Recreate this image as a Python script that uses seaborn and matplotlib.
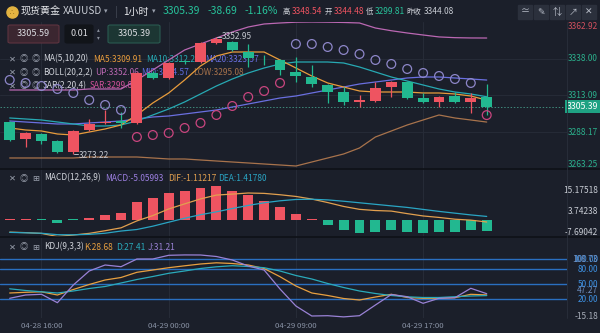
import matplotlib
matplotlib.use("Agg")
import matplotlib.pyplot as plt
from matplotlib.lines import Line2D
from matplotlib.patches import FancyBboxPatch
import numpy as np
import pandas as pd
import seaborn as sns

# ---------------- data ----------------
DATE_TICK_POS = [2, 10, 18, 26]
DATE_TICK_LABELS = ["04-28 16:00", "04-29 00:00", "04-29 09:00", "04-29 17:00"]

OPEN = [3295.12, 3283.60, 3286.99, 3282.24, 3274.78, 3289.70, 3294.45, 3295.80, 3294.45, 3328.35,
        3324.96, 3336.20, 3335.80, 3348.69, 3349.50, 3342.58, 3337.30, 3337.16, 3329.02, 3325.63,
        3320.21, 3315.46, 3308.68, 3309.36, 3318.85, 3322.24, 3311.40, 3308.68, 3312.75, 3308.68,
        3312.07]
HIGH = [3296.00, 3288.30, 3287.60, 3282.90, 3289.60, 3297.16, 3303.26, 3301.90, 3329.00, 3329.60,
        3335.80, 3337.00, 3349.30, 3352.95, 3350.20, 3348.01, 3340.55, 3337.90, 3339.19, 3333.77,
        3320.90, 3318.85, 3313.43, 3322.24, 3322.90, 3322.90, 3314.79, 3312.60, 3315.46, 3314.79,
        3320.89]
LOW = [3282.30, 3278.17, 3280.21, 3274.20, 3273.22, 3289.20, 3294.00, 3291.06, 3293.80, 3324.30,
       3324.40, 3334.60, 3335.20, 3348.10, 3343.40, 3332.41, 3333.77, 3326.99, 3322.24, 3318.85,
       3308.01, 3306.65, 3305.29, 3308.80, 3312.07, 3310.90, 3308.10, 3305.29, 3308.20, 3301.23,
       3299.81]
CLOSE = [3282.92, 3287.67, 3282.24, 3274.78, 3289.02, 3293.77, 3295.12, 3294.45, 3328.35, 3324.96,
         3335.13, 3335.50, 3348.69, 3351.40, 3343.94, 3338.52, 3337.00, 3330.38, 3326.31, 3320.89,
         3315.46, 3308.68, 3310.04, 3318.18, 3322.24, 3311.40, 3308.68, 3312.07, 3308.68, 3311.40,
         3305.39]

MA5 = [3291.06, 3289.70, 3289.02, 3286.99, 3286.31, 3288.34, 3290.38, 3293.09, 3299.87, 3308.01,
       3314.79, 3323.60, 3333.09, 3339.87, 3342.58, 3342.58, 3342.58, 3337.16, 3331.74, 3326.31,
       3321.57, 3318.85, 3316.14, 3315.46, 3315.46, 3315.46, 3314.79, 3314.79, 3314.11, 3312.75,
       3309.91]
MA10 = [3297.84, 3297.16, 3296.48, 3295.12, 3293.77, 3292.41, 3292.41, 3293.09, 3295.80, 3299.87,
        3303.94, 3308.68, 3314.11, 3319.53, 3324.28, 3328.35, 3331.74, 3334.45, 3335.80, 3335.80,
        3335.80, 3335.13, 3332.41, 3329.02, 3325.63, 3322.92, 3320.21, 3317.50, 3315.46, 3314.11,
        3312.24]
MA20 = [3295.80, 3295.12, 3294.45, 3293.77, 3293.77, 3294.45, 3295.12, 3295.80, 3297.16, 3298.51,
        3299.19, 3300.55, 3301.90, 3303.26, 3305.29, 3307.33, 3309.36, 3311.40, 3312.75, 3314.79,
        3316.82, 3318.85, 3320.89, 3322.24, 3323.60, 3324.96, 3325.63, 3325.63, 3324.96, 3324.28,
        3323.57]
BOLL_UP = [3316.82, 3316.82, 3316.82, 3316.82, 3316.82, 3317.50, 3317.50, 3317.50, 3323.60, 3330.38,
           3337.16, 3343.94, 3348.01, 3352.08, 3356.14, 3359.53, 3361.57, 3362.25, 3362.80, 3362.92,
           3362.80, 3362.60, 3362.25, 3358.85, 3357.00, 3355.47, 3354.11, 3352.80, 3352.30, 3352.10,
           3352.06]
BOLL_LOW = [3270.72, 3270.72, 3270.72, 3270.72, 3270.72, 3271.39, 3271.39, 3271.39, 3271.39, 3270.72,
            3270.04, 3270.04, 3269.36, 3268.68, 3268.00, 3267.33, 3266.65, 3265.97, 3265.29, 3268.00,
            3270.72, 3273.43, 3277.50, 3284.95, 3289.02, 3293.09, 3296.48, 3299.87, 3297.84, 3296.48,
            3295.08]
SAR = [3323.60, 3321.57, 3319.53, 3317.50, 3314.79, 3310.04, 3306.65, 3303.26, 3284.95, 3286.31,
       3287.67, 3291.06, 3294.45, 3299.87, 3305.97, 3312.07, 3316.14, 3321.57, 3348.01, 3348.01,
       3345.97, 3343.94, 3341.23, 3337.16, 3334.45, 3331.06, 3328.35, 3326.31, 3324.28, 3321.57,
       3299.80]

MACD_HIST = [0.20, 0.15, -0.15, -1.67, -0.20, 0.90, 2.28, 2.89, 7.75, 9.58,
             12.00, 13.07, 14.29, 15.18, 13.07, 11.25, 8.51, 5.47, 2.74, 0.15,
             -2.43, -4.71, -5.93, -5.62, -4.71, -5.62, -5.93, -5.47, -5.47, -4.71,
             -5.06]
DIF = [-5.70, -5.92, -6.28, -7.69, -7.00, -6.25, -5.06, -3.75, -0.60, 1.80,
       4.80, 7.10, 9.35, 11.09, 11.53, 12.03, 11.86, 11.24, 10.47, 9.28,
       7.70, 5.94, 4.63, 4.09, 3.84, 2.69, 1.63, 0.96, 0.16, -0.26,
       -1.11]
DEA = [-5.80, -6.00, -6.20, -6.85, -6.90, -6.70, -6.20, -5.20, -4.50, -3.00,
       -1.20, 0.60, 2.20, 3.50, 5.00, 6.40, 7.60, 8.50, 9.10, 9.20,
       8.90, 8.30, 7.60, 6.90, 6.20, 5.50, 4.60, 3.70, 2.90, 2.10,
       1.42]

K = [32.6, 34.0, 35.0, 28.6, 39.6, 49.6, 58.6, 63.6, 74.0, 78.6,
     83.2, 87.0, 90.6, 93.0, 91.6, 88.6, 81.6, 65.2, 46.6, 32.6,
     27.6, 21.6, 18.6, 24.6, 30.0, 23.6, 22.0, 22.2, 23.2, 30.0,
     28.68]
D = [41.0, 37.6, 35.0, 32.6, 36.6, 41.6, 45.6, 52.6, 59.6, 65.6,
     72.0, 76.6, 81.6, 85.0, 87.2, 85.6, 83.2, 76.6, 67.6, 60.6,
     51.6, 43.6, 36.6, 31.6, 27.6, 25.0, 23.6, 23.6, 25.2, 26.6,
     27.41]
J = [22.0, 28.6, 30.0, 13.2, 48.6, 76.6, 88.6, 85.2, 100.6, 100.6,
     108.0, 108.73, 108.6, 105.6, 98.6, 86.6, 78.6, 40.6, 6.6, -13.4,
     -12.8, -15.18, -12.8, 8.6, 29.6, 25.2, 12.0, 22.0, 23.2, 42.0,
     31.21]

PRICE_TICKS = [3263.25, 3288.17, 3313.09, 3338.00, 3362.92]
MACD_TICKS = [-7.69042, 3.74238, 15.17518]
KDJ_TICKS = [-15.18, 20.00, 47.27, 50.00, 80.00, 100.00, 108.73]
KDJ_LEVELS = [20, 50, 80, 100]
LAST_PRICE = 3305.39
HIGH_MARK = (13, 3352.95)
LOW_MARK = (4, 3273.22)

# ---------------- style ----------------
sns.set_theme(style="dark")
plt.rcParams['font.family'] = ['Noto Sans CJK SC', 'DejaVu Sans']
plt.rcParams['axes.unicode_minus'] = False

BG = '#1b1f2a'
RED = '#ee5461'
GREEN = '#22b890'
GRID = '#262b37'
C_MA5, C_MA10, C_MA20 = '#e89c3c', '#27a9b3', '#6a6fe0'
C_UP, C_MID, C_LOW = '#bb68b3', '#5f6de0', '#a8734c'
C_K, C_D, C_J = '#e8a040', '#2aaabb', '#9a82d6'
C_DIF, C_DEA = '#e2a04f', '#2aa5c4'
TXT = '#d0d3da'
ICON = '#9aa0ad'

W, H = 600, 333
fig = plt.figure(figsize=(6, 3.33), dpi=100, facecolor=BG)


def fx(p):
    return p / W


def fy(p):
    return 1 - p / H


def axes_px(x0, y0, x1, y1):
    return fig.add_axes([fx(x0), fy(y1), (x1 - x0) / W, (y1 - y0) / H])


ax = axes_px(0, 22, 567, 169)
axm = axes_px(0, 169, 567, 237)
axk = axes_px(0, 237, 567, 318)

df = pd.DataFrame({
    'i': np.arange(len(CLOSE)), 'open': OPEN, 'high': HIGH, 'low': LOW, 'close': CLOSE,
    'MA5': MA5, 'MA10': MA10, 'MA20': MA20, 'UP': BOLL_UP, 'LOW_B': BOLL_LOW, 'SAR': SAR,
    'HIST': MACD_HIST, 'DIF': DIF, 'DEA': DEA, 'K': K, 'D': D, 'J': J,
})
idx = df['i'].values

for a in (ax, axm, axk):
    a.set_facecolor(BG)
    for s in a.spines.values():
        s.set_visible(False)
    a.set_xlim(-0.61, 35.05)
    a.grid(False)
    for t in DATE_TICK_POS:
        a.axvline(t, color=GRID, lw=0.8, zorder=0)

# ---------------- main panel ----------------
ax.set_ylim(PRICE_TICKS[0], PRICE_TICKS[-1])
for v in PRICE_TICKS[1:-1]:
    ax.axhline(v, color=GRID, lw=0.7, zorder=0)

for col, c in [('UP', C_UP), ('LOW_B', C_LOW), ('MA20', C_MA20), ('MA10', C_MA10), ('MA5', C_MA5)]:
    sns.lineplot(data=df, x='i', y=col, ax=ax, color=c, linewidth=0.9, zorder=2)

o = df['open'].values
c = df['close'].values
up = c >= o
cols = np.where(up, RED, GREEN)
ax.vlines(idx, df['low'], df['high'], colors=cols, lw=0.9, zorder=3)
body_h = np.maximum(np.abs(c - o), 0.35)
ax.bar(idx, body_h, bottom=np.minimum(o, c), width=0.68, color=cols, linewidth=0, zorder=4)

sar = df['SAR'].values
above = sar > c
ax.scatter(idx[above], sar[above], s=40, facecolors='none', edgecolors='#8d86c8', linewidths=0.9, zorder=5)
ax.scatter(idx[~above], sar[~above], s=40, facecolors='none', edgecolors='#c8457e', linewidths=0.9, zorder=5)

ax.axhline(LAST_PRICE, color='#3f8a7c', lw=0.7, ls=(0, (1.5, 1.8)), zorder=1)

# high / low marks
hx, hv = HIGH_MARK
ax.plot([hx + 0.05, hx + 0.3], [hv, hv], color='#b8bcc6', lw=0.7, zorder=6)
ax.text(hx + 0.35, hv, f'{hv:.2f}', color='#c3c7cf', fontsize=6, va='center', ha='left', zorder=6)
lx, lv = LOW_MARK
ax.plot([lx + 0.05, lx + 0.3], [lv, lv], color='#b8bcc6', lw=0.7, zorder=6)
ax.text(lx + 0.35, lv - 1.0, f'{lv:.2f}', color='#c3c7cf', fontsize=6, va='center', ha='left', zorder=6)


def right_ticks(a, vals, labels, colors, vas, size=6.0, pad=22.3):
    a.yaxis.tick_right()
    a.set_yticks(vals)
    a.set_yticklabels(labels)
    a.tick_params(axis='y', length=0, pad=pad, labelsize=size, left=False, right=True,
                  labelleft=False, labelright=True)
    for t, col, va in zip(a.yaxis.get_major_ticks(), colors, vas):
        t.label2.set_color(col)
        t.label2.set_va(va)
        t.label2.set_ha('right')


right_ticks(ax, PRICE_TICKS, [f'{v:.2f}' for v in PRICE_TICKS],
            ['#2bb08c'] * 4 + ['#d0505e'], ['bottom', 'center', 'center', 'center', 'top'])

ax.text(598 / 567, LAST_PRICE, f'{LAST_PRICE:.2f}', transform=ax.get_yaxis_transform(),
        ha='right', va='center', fontsize=6.3, color='white', zorder=10, clip_on=False,
        bbox=dict(boxstyle='square,pad=0.22', fc='#1fa283', ec='none'))

# legend rows (under the candles)
def row_icons(a, y, third='◎'):
    for x, s in [(12, '✕'), (23.5, '◎'), (35.5, third)]:
        a.text(fx(x), fy(y), s, transform=fig.transFigure, ha='center', va='center',
               fontsize=6, color=ICON, zorder=1)


def row_text(a, y, items):
    for x, s, col in items:
        a.text(fx(x), fy(y), s, transform=fig.transFigure, ha='left', va='center',
               fontsize=6, color=col, zorder=1)


row_icons(ax, 59)
row_text(ax, 59, [(43, 'MA(5,10,20)', TXT), (93, 'MA5:3309.91', C_MA5),
                  (146, 'MA10:3312.24', C_MA10), (205, 'MA20:3323.57', C_MA20)])
row_icons(ax, 72.5)
row_text(ax, 72.5, [(43, 'BOLL(20,2,2)', TXT), (95, 'UP:3352.06', C_UP),
                    (141, 'MID:3324.57', C_MID), (193, 'LOW:3295.08', C_LOW)])
row_icons(ax, 86)
row_text(ax, 86, [(43, 'SAR(2,20,4)', TXT), (90, 'SAR:3299.81', '#d0509a')])

ax.set_xticks([])
ax.set_xlabel('')
ax.set_ylabel('')

# ---------------- MACD panel ----------------
axm.set_ylim(-7.9, 22.9)
hist = df['HIST'].values
small = np.abs(hist) < 0.5
hb = np.where(small, -0.35, np.minimum(hist, 0))
hh = np.where(small, 0.7, np.abs(hist))
axm.bar(idx, hh, bottom=hb, width=0.62, color=np.where(hist >= 0, RED, GREEN), linewidth=0, zorder=3)
sns.lineplot(data=df, x='i', y='DIF', ax=axm, color=C_DIF, linewidth=0.9, zorder=4)
sns.lineplot(data=df, x='i', y='DEA', ax=axm, color=C_DEA, linewidth=0.9, zorder=4)
right_ticks(axm, MACD_TICKS, [f'{v:.5f}' for v in MACD_TICKS], ['#c8ccd4'] * 3,
            ['bottom', 'center', 'top'])
axm.set_xticks([])
axm.set_xlabel('')
axm.set_ylabel('')
row_icons(axm, 178, '⊞')
row_text(axm, 178, [(44, 'MACD(12,26,9)', TXT), (105, 'MACD:-5.05993', '#9c7fe0'),
                    (168, 'DIF:-1.11217', C_DIF), (218, 'DEA:1.41780', C_DEA)])

# ---------------- KDJ panel ----------------
axk.set_ylim(-17.4, 144.6)
for lv_ in KDJ_LEVELS:
    axk.axhline(lv_, color='#2a6fc0', lw=1.0, zorder=1)
sns.lineplot(data=df, x='i', y='K', ax=axk, color=C_K, linewidth=0.9, zorder=3)
sns.lineplot(data=df, x='i', y='D', ax=axk, color=C_D, linewidth=0.9, zorder=3)
sns.lineplot(data=df, x='i', y='J', ax=axk, color=C_J, linewidth=0.9, zorder=3)
kcols = ['#a9afbb', '#3d8fe0', '#6f8fc0', '#3d8fe0', '#3d8fe0', '#3d8fe0', '#6f8fc0']
kvas = ['center', 'center', 'top', 'center', 'center', 'center', 'top']
right_ticks(axk, KDJ_TICKS, [f'{v:.2f}' for v in KDJ_TICKS], kcols, kvas)
axk.set_xticks(DATE_TICK_POS)
axk.set_xticklabels(DATE_TICK_LABELS)
axk.tick_params(axis='x', length=0, pad=3.2, labelsize=5.6, labelcolor='#8a93a6', bottom=True)
axk.set_xlabel('')
axk.set_ylabel('')
row_icons(axk, 247, '⊞')
row_text(axk, 247, [(44, 'KDJ(9,3,3)', TXT), (84, 'K:28.68', C_K),
                    (116, 'D:27.41', C_D), (148, 'J:31.21', C_J)])

# ---------------- separators ----------------
for yy in (169, 237):
    fig.add_artist(Line2D([0, 1], [fy(yy), fy(yy)], transform=fig.transFigure,
                          color='#0e1117', lw=1.2))
fig.add_artist(Line2D([fx(567), fx(567)], [fy(22), fy(318)], transform=fig.transFigure,
                      color='#2a2f3b', lw=0.6))

# ---------------- header ----------------
fig.add_artist(Line2D([fx(12)], [fy(11.5)], marker='o', ms=8, color='#e3b341',
                      transform=fig.transFigure))
fig.text(fx(12), fy(11.5), '∴', ha='center', va='center', fontsize=4.5, color='#7a5a10')
fig.text(fx(20.5), fy(11.5), '现货黄金', ha='left', va='center', fontsize=7.2, color='#e6e8ec')
fig.text(fx(63), fy(11.5), 'XAUUSD', ha='left', va='center', fontsize=7.2, color='#c8ccd4')
fig.text(fx(104), fy(11.5), '▾', ha='left', va='center', fontsize=5, color='#9aa0ad')
fig.text(fx(115), fy(11.5), '|', ha='left', va='center', fontsize=7, color='#4a505c')
fig.text(fx(123), fy(11.5), '1小时', ha='left', va='center', fontsize=7.2, color='#e6e8ec')
fig.text(fx(152), fy(11.5), '▾', ha='left', va='center', fontsize=5, color='#9aa0ad')
for x, s in [(163, '3305.39'), (208, '-38.69'), (245, '-1.16%')]:
    fig.text(fx(x), fy(11.5), s, ha='left', va='center', fontsize=7.5, color='#27c39b')
for x, s, col, fs in [(283, '高', TXT, 5.3), (292, '3348.54', RED, 6), (324.5, '开', TXT, 5.3),
                      (333.5, '3344.48', RED, 6), (365.5, '低', TXT, 5.3),
                      (374.5, '3299.81', '#27c39b', 6), (406, '昨收', TXT, 5.3),
                      (423.5, '3344.08', '#c8ccd4', 6)]:
    fig.text(fx(x), fy(12), s, ha='left', va='center', fontsize=fs, color=col)

for x, s in [(525, '≃'), (541, '✎'), (557, '⇅'), (573, '↗'), (589, '✕')]:
    fig.add_artist(Line2D([fx(x)], [fy(12)], marker='s', ms=10.5, color='#2b303c',
                          transform=fig.transFigure))
    fig.text(fx(x), fy(12), s, ha='center', va='center', fontsize=6.5, color='#b8bdc8')

# order-entry row
def box(x0, y0, x1, y1, fc, ec):
    fig.add_artist(FancyBboxPatch((fx(x0), fy(y1)), (x1 - x0) / W, (y1 - y0) / H,
                                  boxstyle='round,pad=0,rounding_size=0.004',
                                  transform=fig.transFigure, fc=fc, ec=ec, lw=0.8))


box(8, 25, 59, 43, '#3b2630', '#5e3440')
fig.text(fx(33.5), fy(34), '3305.59', ha='center', va='center', fontsize=6.5, color='#dcdde2')
box(65, 25, 93, 43, '#111419', '#111419')
fig.text(fx(79), fy(34), '0.01', ha='center', va='center', fontsize=6.5, color='#dcdde2')
fig.text(fx(98), fy(30), '▴', ha='center', va='center', fontsize=4, color='#8a909c')
fig.text(fx(98), fy(38), '▾', ha='center', va='center', fontsize=4, color='#8a909c')
box(108, 25, 160, 43, '#1c3633', '#2a5a50')
fig.text(fx(134), fy(34), '3305.39', ha='center', va='center', fontsize=6.5, color='#dcdde2')

fig.savefig('out.png', dpi=100, facecolor=BG)
